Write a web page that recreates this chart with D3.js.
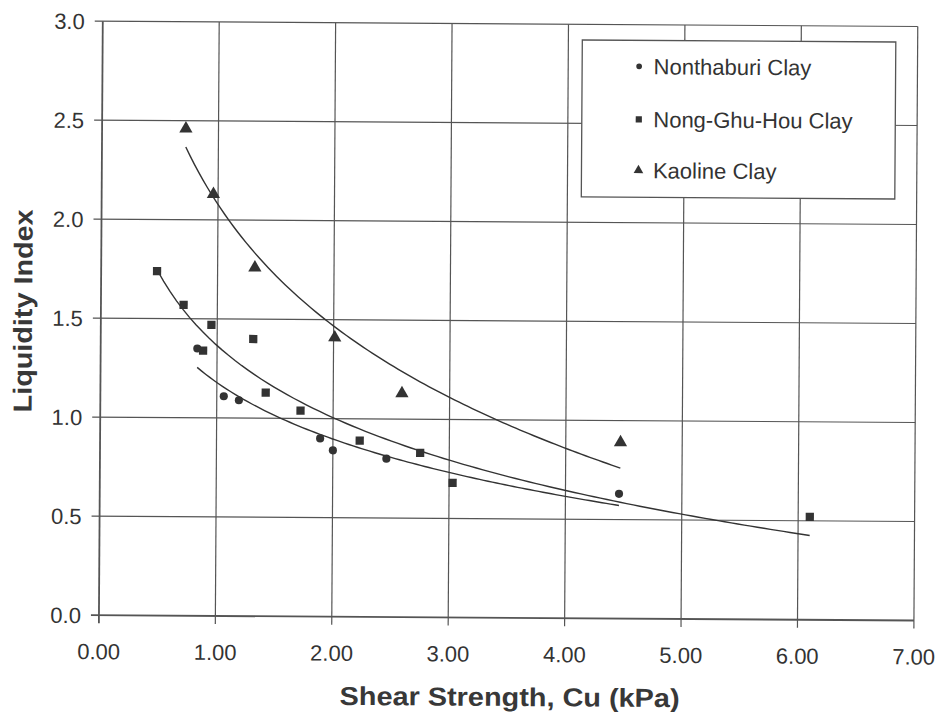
<!doctype html>
<html lang="en">
<head>
<meta charset="UTF-8">
<title>Liquidity Index vs Shear Strength</title>
<style>
  html, body { margin: 0; padding: 0; background: #fff; }
  svg { display: block; font-family: 'Liberation Sans', Arial, sans-serif; }
  .tick-label { fill: #333; font-size: 22px; }
  .axis-title { fill: #383838; font-size: 26px; font-weight: bold; }
  .legend-text { fill: #333; font-size: 22px; }
  .grid line { stroke: #555; stroke-width: 1.2; }
</style>
</head>
<body>
<svg width="941" height="712"></svg>
<script src="https://d3js.org/d3.v7.min.js"></script>
<script>
  // values
  const xTicks = [0, 1, 2, 3, 4, 5, 6, 7];
  const yTicks = [0, 0.5, 1.0, 1.5, 2.0, 2.5, 3.0];

  const nonthaburiCu = [0.83, 1.06, 1.19, 1.89, 2.00, 2.46, 4.46];
  const nonthaburiLI = [1.35, 1.11, 1.09, 0.90, 0.84, 0.80, 0.63];

  const nongCu = [0.48, 0.71, 0.95, 0.88, 1.31, 1.42, 1.72, 2.23, 2.75, 3.03, 6.10];
  const nongLI = [1.74, 1.57, 1.47, 1.34, 1.40, 1.13, 1.04, 0.89, 0.83, 0.68, 0.52];

  const kaolineCu = [0.72, 0.96, 1.32, 2.01, 2.59, 4.47];
  const kaolineLI = [2.46, 2.13, 1.76, 1.41, 1.13, 0.89];

  const seriesNames = ['Nonthaburi Clay', 'Nong-Ghu-Hou Clay', 'Kaoline Clay'];
  const seriesShapes = ['circle', 'square', 'triangle'];

  (function () {
    const series = [
      { name: seriesNames[0], shape: seriesShapes[0], cu: nonthaburiCu, li: nonthaburiLI },
      { name: seriesNames[1], shape: seriesShapes[1], cu: nongCu, li: nongLI },
      { name: seriesNames[2], shape: seriesShapes[2], cu: kaolineCu, li: kaolineLI }
    ]

    const svg = d3.select('svg')

    const pLeft = 100.85, pRight = 915.85, pTop = 23.85, pBottom = 617.85
    const x = d3.scaleLinear().domain([0, 7]).range([pLeft, pRight])
    const y = d3.scaleLinear().domain([0, 3]).range([pBottom, pTop])

    // the scan is slightly turned
    const g = svg.append('g')
      .attr('transform', `rotate(0.37, ${(pLeft + pRight) / 2}, ${(pTop + pBottom) / 2})`)

    // grid
    const grid = g.append('g').attr('class', 'grid')
    grid.selectAll('.vx').data(xTicks).enter().append('line')
      .attr('x1', d => x(d)).attr('x2', d => x(d))
      .attr('y1', pTop).attr('y2', pBottom + 8)
      .style('stroke-width', d => d === 0 ? 1.8 : 1.2)
    grid.selectAll('.hy').data(yTicks).enter().append('line')
      .attr('x1', pLeft - 8).attr('x2', pRight)
      .attr('y1', d => y(d)).attr('y2', d => y(d))
      .style('stroke-width', d => d === 0 ? 1.8 : 1.2)

    // tick labels
    g.selectAll('.xl').data(xTicks).enter().append('text')
      .attr('class', 'tick-label')
      .attr('x', d => x(d)).attr('y', pBottom + 44)
      .attr('text-anchor', 'middle')
      .text(d => d3.format('.2f')(d))
    g.selectAll('.yl').data(yTicks).enter().append('text')
      .attr('class', 'tick-label')
      .attr('x', pLeft - 18).attr('y', d => y(d))
      .attr('dy', '0.36em')
      .attr('text-anchor', 'end')
      .text(d => d3.format('.1f')(d))

    // axis titles
    g.append('text')
      .attr('class', 'axis-title')
      .attr('x', 512).attr('y', 706)
      .attr('text-anchor', 'middle')
      .attr('textLength', 340).attr('lengthAdjust', 'spacingAndGlyphs')
      .text('Shear Strength, Cu (kPa)')
    g.append('text')
      .attr('class', 'axis-title')
      .attr('transform', 'translate(32, 314) rotate(-90)')
      .attr('text-anchor', 'middle')
      .attr('textLength', 203).attr('lengthAdjust', 'spacingAndGlyphs')
      .text('Liquidity Index')

    // logarithmic trend lines (least squares on ln x)
    const logFit = (xs, ys) => {
      const lx = xs.map(Math.log)
      const mx = d3.mean(lx), my = d3.mean(ys)
      const b = d3.sum(lx, (v, i) => (v - mx) * (ys[i] - my)) / d3.sum(lx, v => (v - mx) ** 2)
      return { a: my - b * mx, b }
    }
    const line = d3.line().x(d => x(d[0])).y(d => y(d[1]))

    series.forEach(s => {
      const fit = logFit(s.cu, s.li)
      const [x0, x1] = d3.extent(s.cu)
      const pts = d3.range(0, 101).map(i => {
        const xv = x0 + (x1 - x0) * i / 100
        return [xv, fit.a + fit.b * Math.log(xv)]
      })
      g.append('path')
        .attr('d', line(pts))
        .attr('fill', 'none')
        .attr('stroke', '#333')
        .attr('stroke-width', 1.4)
    })

    const symbols = {
      circle: d3.symbol().type(d3.symbolCircle).size(52),
      square: d3.symbol().type(d3.symbolSquare).size(68),
      triangle: d3.symbol().type(d3.symbolTriangle).size(76)
    }
    const legendSymbols = {
      circle: d3.symbol().type(d3.symbolCircle).size(26),
      square: d3.symbol().type(d3.symbolSquare).size(38),
      triangle: d3.symbol().type(d3.symbolTriangle).size(40)
    }

    series.forEach(s => {
      g.append('g').selectAll('path')
        .data(s.cu.map((c, i) => [c, s.li[i]]))
        .enter().append('path')
        .attr('transform', d => `translate(${x(d[0])},${y(d[1])})`)
        .attr('d', symbols[s.shape])
        .attr('fill', '#333')
    })

    // legend
    const legend = g.append('g')
    legend.append('rect')
      .attr('x', 580.5).attr('y', 39.5)
      .attr('width', 313.5).attr('height', 157)
      .attr('fill', '#fff')
      .attr('stroke', '#555').attr('stroke-width', 1.3)
    const rows = [65.5, 118.5, 169.5]
    series.forEach((s, i) => {
      legend.append('path')
        .attr('transform', `translate(637.5,${rows[i]})`)
        .attr('d', legendSymbols[s.shape])
        .attr('fill', '#333')
      legend.append('text')
        .attr('class', 'legend-text')
        .attr('x', 652).attr('y', rows[i])
        .attr('dy', '0.36em')
        .text(s.name)
    })
  })()
</script>
</body>
</html>
